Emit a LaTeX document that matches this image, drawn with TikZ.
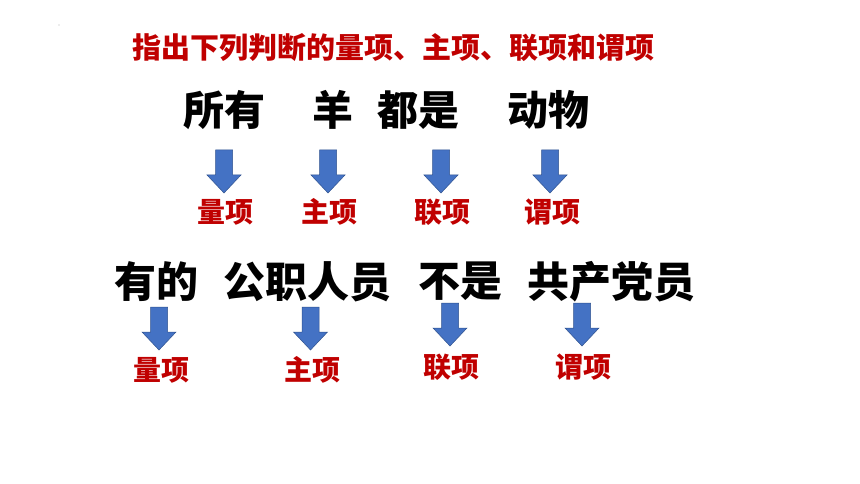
\documentclass[tikz,border=0pt]{standalone}
\usepackage{fontspec}
\newfontfamily\cjk{Noto Sans CJK SC}
\definecolor{titlered}{RGB}{192,0,0}
\definecolor{arrowblue}{RGB}{68,114,196}
\definecolor{arrowedge}{RGB}{47,82,143}
\tikzset{
  titletext/.style={font=\cjk\bfseries\fontsize{29}{33}\selectfont, text=titlered, inner sep=0pt},
  wordA/.style={font=\cjk\bfseries\fontsize{41}{45}\selectfont, text=black, inner sep=0pt},
  wordB/.style={font=\cjk\bfseries\fontsize{42}{46}\selectfont, text=black, inner sep=0pt},
  termlabel/.style={font=\cjk\bfseries\fontsize{28}{32}\selectfont, text=titlered, inner sep=0pt},
  pics/downarr/.style={code={
    \fill[arrowblue, draw=arrowedge, line width=0.5pt]
      (-8.5,0) -- (8.5,0) -- (8.5,25) -- (17,25) -- (0,43) -- (-17,25) -- (-8.5,25) -- cycle;}}
}
\begin{document}
\begin{tikzpicture}[x=1pt, y=-1pt]
\useasboundingbox[fill=white] (0,0) rectangle (860,484);
\fill[gray!60] (59,25) circle (0.6);
\node[titletext] (title) at (393,47.5) {指出下列判断的量项、主项、联项和谓项};
% row 1
\node[wordA] (w1) at (224,110) {所有};
\node[wordA] (w2) at (333,110) {羊};
\node[wordA] (w3) at (418,110) {都是};
\node[wordA] (w4) at (548,110) {动物};
\pic at (224,150) {downarr};
\pic at (328,150) {downarr};
\pic at (441,150) {downarr};
\pic at (550,150) {downarr};
\node[termlabel] (l1) at (225,212) {量项};
\node[termlabel] (l2) at (329,212) {主项};
\node[termlabel] (l3) at (442,212) {联项};
\node[termlabel] (l4) at (552,212) {谓项};
% row 2
\node[wordB] (v1) at (156,281.5) {有的};
\node[wordB] (v2) at (307,281.5) {公职人员};
\node[wordB] (v3) at (460,281.5) {不是};
\node[wordB] (v4) at (611,281.5) {共产党员};
\pic at (159,307) {downarr};
\pic at (310.5,307) {downarr};
\pic at (450,303) {downarr};
\pic at (582,303) {downarr};
\node[termlabel] (m1) at (161,370) {量项};
\node[termlabel] (m2) at (312,370) {主项};
\node[termlabel] (m3) at (451,367) {联项};
\node[termlabel] (m4) at (583,367) {谓项};
\end{tikzpicture}
\end{document}
